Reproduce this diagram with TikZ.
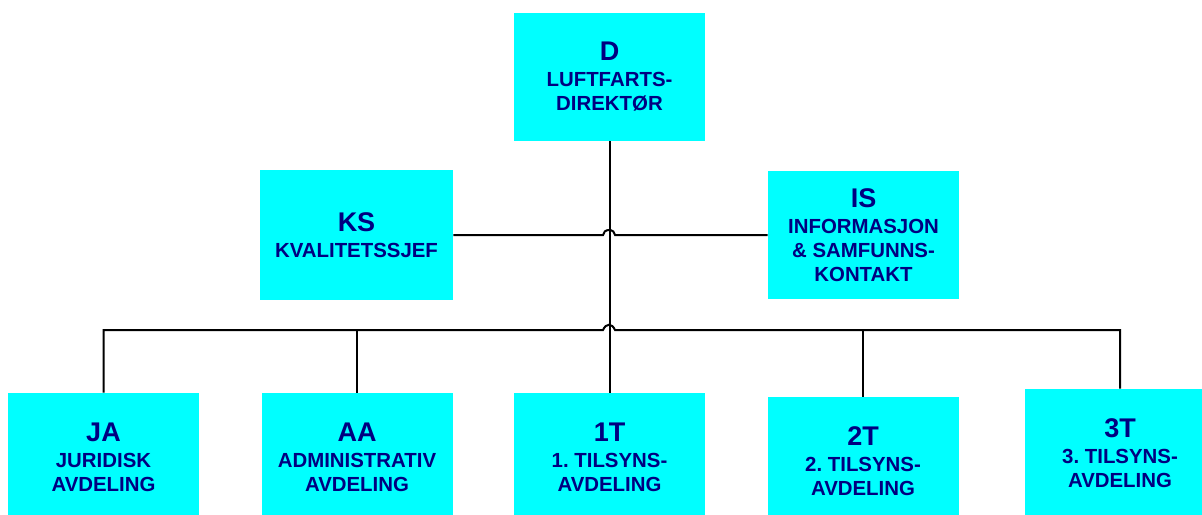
\documentclass[tikz,border=0pt]{standalone}
\usepackage{fontspec}
\setmainfont{Liberation Sans}
\frenchspacing
\definecolor{boxcyan}{HTML}{00FFFF}
\definecolor{navy}{HTML}{000080}
\tikzset{
  orgbox/.style={fill=boxcyan, draw=none, minimum width=95.5pt, minimum height=64pt,
    inner sep=0pt, align=center, text=navy, font=\bfseries\fontsize{10.2}{12}\selectfont},
  conn/.style={draw=black, line width=1pt},
}
\newcommand{\ttl}[1]{{\fontsize{13.5}{13.5}\selectfont #1}\\[1pt]}
\begin{document}
\begin{tikzpicture}[x=0.5pt, y=-0.5pt]
\useasboundingbox (0,0) rectangle (1202,514);
\node[orgbox] (D) at (609.5,77) {\ttl{D}LUFTFARTS-\\DIREKTØR};
\node[orgbox, minimum width=96.5pt, minimum height=65pt] (KS) at (356.5,235) {\ttl{KS}KVALITETSSJEF};
\node[orgbox] (IS) at (863.5,235) {\ttl{IS}INFORMASJON\\\&~SAMFUNNS-\\KONTAKT};
\node[orgbox] (JA) at (103.5,457) {\ttl{JA}JURIDISK\\AVDELING};
\node[orgbox] (AA) at (357,457) {\ttl{AA}ADMINISTRATIV\\AVDELING};
\node[orgbox] (T1) at (609.5,457) {\ttl{1T}1. TILSYNS-\\AVDELING};
\node[orgbox] (T2) at (863,461) {\ttl{2T}2. TILSYNS-\\AVDELING};
\node[orgbox] (T3) at (1120,453) {\ttl{3T}3. TILSYNS-\\AVDELING};
\coordinate (bus) at (609,330);
\coordinate (hopA) at (603,330);
\coordinate (hopB) at (615,330);
\coordinate (hopC) at (603,235);
% trunk
\draw[conn] (D.south) -- (T1.north);
% staff line with hop
\draw[conn] (KS.east) -- (hopC) arc[start angle=180, end angle=0, x radius=3pt, y radius=2.5pt] -- (IS.west);
% bus with hop
\draw[conn] (JA.north) -- (JA.north |- bus) -- (hopA) .. controls (606,323) and (612,323) .. (hopB) -- (T3.north |- bus) -- (T3.north);
\draw[conn] (AA.north) -- (AA.north |- bus);
\draw[conn] (T2.north) -- (T2.north |- bus);
\end{tikzpicture}
\end{document}
